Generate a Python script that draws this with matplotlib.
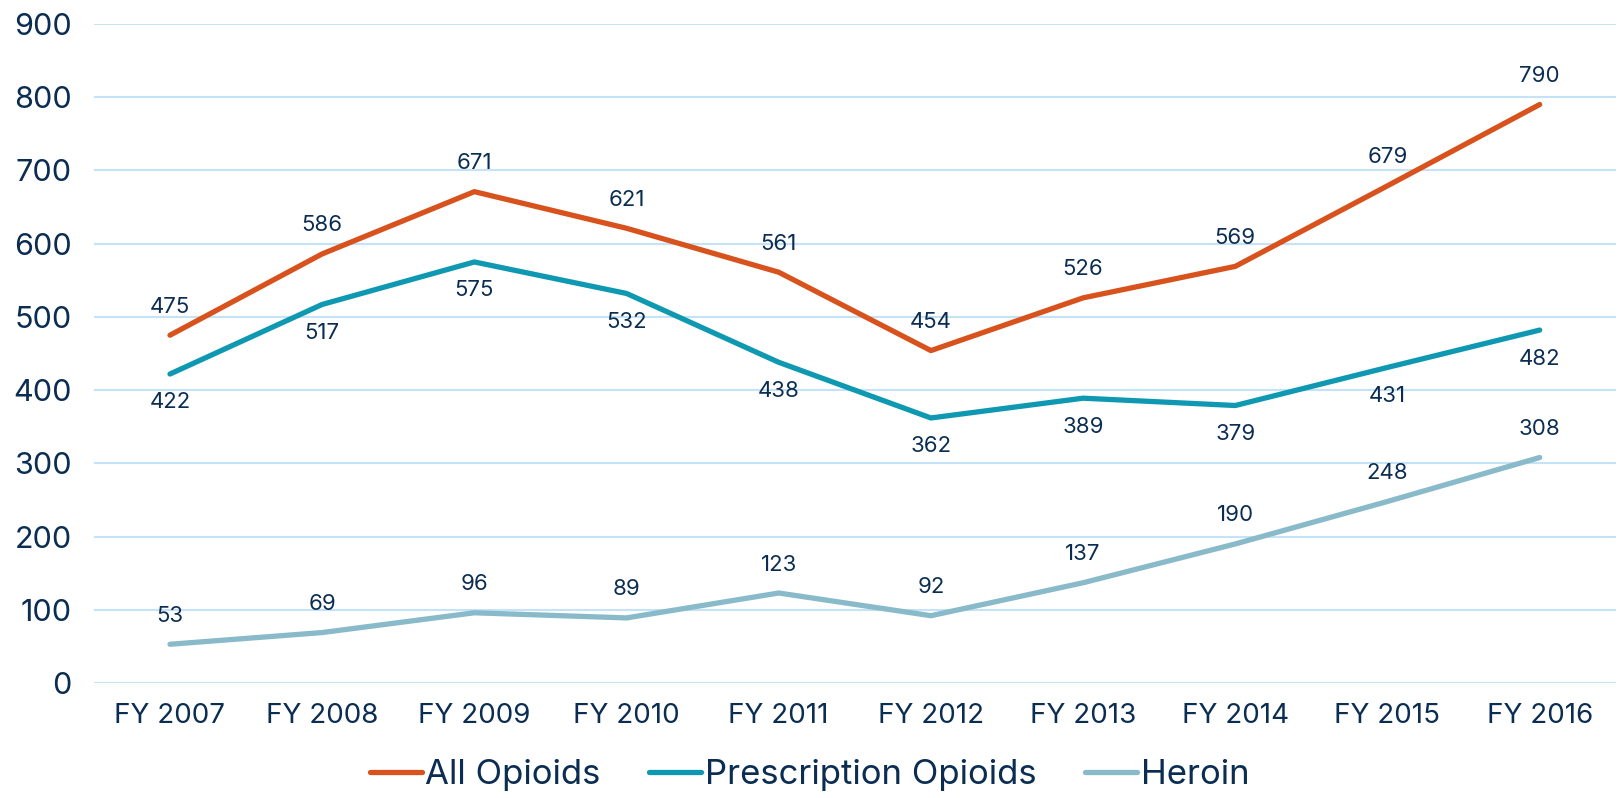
import matplotlib
matplotlib.use("Agg")
import matplotlib.pyplot as plt

# data
years = ["FY 2007", "FY 2008", "FY 2009", "FY 2010", "FY 2011",
         "FY 2012", "FY 2013", "FY 2014", "FY 2015", "FY 2016"]
all_opioids = [475, 586, 671, 621, 561, 454, 526, 569, 679, 790]
rx_opioids = [422, 517, 575, 532, 438, 362, 389, 379, 431, 482]
heroin = [53, 69, 96, 89, 123, 92, 137, 190, 248, 308]

navy = "#0b2d52"
plt.rcParams['font.family'] = ['Inter', 'DejaVu Sans']

fig = plt.figure(figsize=(16.19, 7.98), dpi=100)
ax = fig.add_axes([0.058, 0.144, 0.94, 0.826])

x = list(range(len(years)))
series = [
    ("All Opioids", all_opioids, "#d7521c", 1),
    ("Prescription Opioids", rx_opioids, "#0f98b1", -1),
    ("Heroin", heroin, "#89bac9", 1),
]

for name, vals, col, side in series:
    ax.plot(x, vals, color=col, lw=3.8, label=name, solid_capstyle="round", zorder=3)
    for xi, v in zip(x, vals):
        ax.annotate(str(v), (xi, v), xytext=(0, 20.5 * side), textcoords="offset points",
                    ha="center", va="center", fontsize=16, color=navy)

ax.set_xlim(-0.5, 9.5)
ax.set_ylim(0, 900)
ax.set_yticks(range(0, 901, 100))
ax.set_xticks(x)
ax.set_xticklabels(years)
ax.grid(axis="y", color="#c6e2f6", lw=1.5, zorder=0)
ax.tick_params(axis="y", length=0, labelsize=22, labelcolor=navy, pad=16)
ax.tick_params(axis="x", length=0, labelsize=20, labelcolor=navy, pad=14)
for s in ax.spines.values():
    s.set_visible(False)

leg = fig.legend(loc="lower center", bbox_to_anchor=(0.5, -0.03), ncol=3, frameon=False,
                 fontsize=25, handlelength=1.5, handletextpad=0.1, columnspacing=1.4)
for t in leg.get_texts():
    t.set_color(navy)

plt.savefig("out.png", dpi=100)
